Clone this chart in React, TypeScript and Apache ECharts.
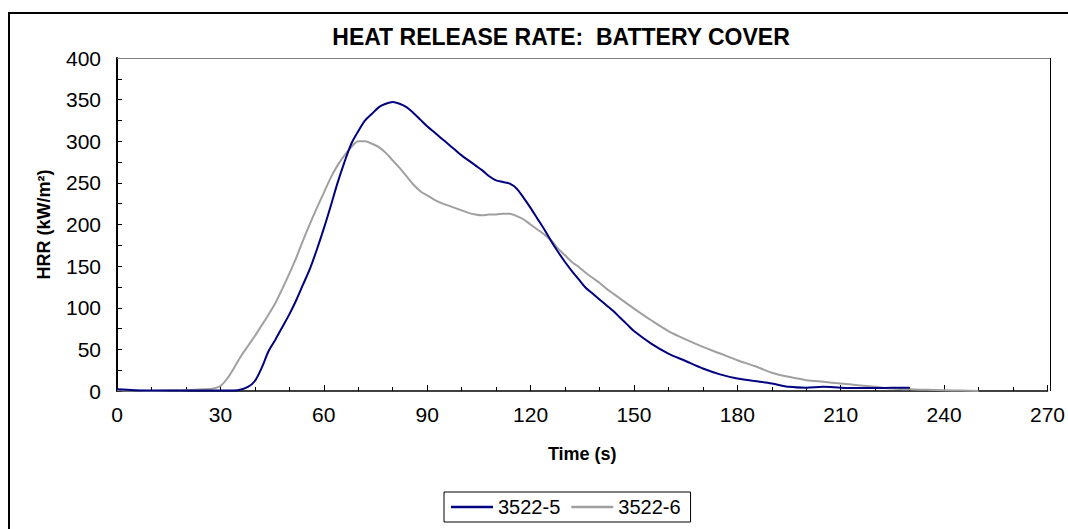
import React, { useEffect, useRef } from "react";
import * as echarts from "echarts";

const TITLE = "HEAT RELEASE RATE:  BATTERY COVER";
const X_NAME = "Time (s)";
const Y_NAME = "HRR (kW/m²)";

const timeA = [0,5,10,15,20,25,30,35,38,40,42,44,46,48,50,52,54,56,58,60,62,64,66,68,70,72,74,76,78,80,82,84,86,88,90,92,94,96,98,100,102,104,106,108,110,112,114,116,118,120,122,124,126,128,130,132,134,136,138,140,142,144,146,148,150,155,160,165,170,175,180,185,190,195,200,205,210,215,220,225,230];
const hrrA = [2,1,0.5,0.5,0.5,0.5,0.5,1,5,12,28,48,62,77,92,109,128,147,170,195,222,250,275,297,312,325,333,341,345,347,345,341,334,326,318,311,304,297,290,283,277,271,265,258,253,251,249,243,232,220,207,194,180,167,155,144,134,124,117,110,103,96,88,80,72,57,45,36,27,20,15,12,9,5,4,5,4,3.5,3.5,4,4];

const timeB = [0,5,10,15,20,25,28,30,32,34,36,38,40,42,44,46,48,50,52,54,56,58,60,62,64,66,68,70,72,74,76,78,80,82,84,86,88,90,92,94,96,98,100,102,104,106,108,110,112,114,116,118,120,122,124,126,128,130,132,134,136,138,140,142,144,146,148,150,155,160,165,170,175,180,185,190,195,200,205,210,215,220,225,230,235,240,245,250];
const hrrB = [1,0.5,0,0.5,1,2,3,6,15,28,42,54,66,79,92,106,123,141,160,181,201,220,238,256,271,283,293,300,300,297,293,286,277,268,258,248,240,235,230,226,223,220,217,214,212,211,212,212,213,213,210,206,200,194,188,181,171,163,155,149,142,136,130,123,117,111,105,99,85,72,62,53,45,37,30,22,17,13,11,9,7,5,3,2,1.5,1,0.5,0];

const SERIES_NAMES = ["3522-5", "3522-6"];

const FONT = "'Liberation Sans', Arial, sans-serif";

export default function App() {
  const ref = useRef<HTMLDivElement>(null);
  useEffect(() => {
    if (!ref.current) return;
    const chart = echarts.init(ref.current, undefined, { renderer: "svg" });
    const option = {
      animation: false,
      backgroundColor: "#ffffff",
      textStyle: { fontFamily: FONT },
      title: {
        text: TITLE,
        left: 556,
        top: 20,
        textAlign: "center",
        textStyle: { fontFamily: FONT, fontSize: 23, fontWeight: "bold", color: "#000" },
      },
      graphic: [
        {
          type: "rect",
          shape: { x: 9, y: 13, width: 1200, height: 700 },
          style: { fill: "none", stroke: "#000", lineWidth: 2 },
          silent: true,
        },
        {
          type: "line",
          shape: { x1: 117, y1: 58.5, x2: 1050, y2: 58.5 },
          style: { stroke: "#808080", lineWidth: 1 },
          silent: true,
          z: 10,
        },
        {
          type: "line",
          shape: { x1: 1050.5, y1: 58, x2: 1050.5, y2: 391 },
          style: { stroke: "#000", lineWidth: 1 },
          silent: true,
          z: 10,
        },
      ],
      legend: {
        data: SERIES_NAMES,
        left: 444,
        top: 492,
        orient: "horizontal",
        icon: "rect",
        itemWidth: 42,
        itemHeight: 2.5,
        itemGap: 11,
        padding: [5, 10, 5, 7],
        borderColor: "#000",
        borderWidth: 1,
        borderRadius: 0,
        textStyle: { fontFamily: FONT, fontSize: 20, color: "#000", padding: [0, 0, 0, 0] },
      },
      grid: {
        left: 117,
        right: 18,
        top: 58,
        bottom: 138,
        show: false,
      },
      xAxis: {
        type: "value",
        min: 0,
        max: 270,
        interval: 30,
        name: X_NAME,
        nameLocation: "middle",
        nameGap: 54,
        nameTextStyle: { fontFamily: FONT, fontSize: 18, fontWeight: "bold", color: "#000" },
        axisLine: { show: true, lineStyle: { color: "#000", width: 1.5 } },
        axisTick: { show: true, inside: true, length: 6, lineStyle: { color: "#000" } },
        minorTick: { show: true, splitNumber: 3, length: 4, lineStyle: { color: "#000" } },
        axisLabel: { fontFamily: FONT, fontSize: 21, color: "#000", margin: 13 },
        splitLine: { show: false },
      },
      yAxis: {
        type: "value",
        min: 0,
        max: 400,
        interval: 50,
        name: Y_NAME,
        nameLocation: "middle",
        nameGap: 64,
        nameTextStyle: { fontFamily: FONT, fontSize: 18, fontWeight: "bold", color: "#000" },
        axisLine: { show: true, lineStyle: { color: "#000", width: 2 } },
        axisTick: { show: true, inside: true, length: 5, lineStyle: { color: "#000" } },
        minorTick: { show: true, splitNumber: 2, length: 5, lineStyle: { color: "#000" } },
        axisLabel: { fontFamily: FONT, fontSize: 21, color: "#000", margin: 16 },
        splitLine: { show: false },
      },
      series: [
        {
          name: SERIES_NAMES[0],
          type: "line",
          data: timeA.map((t, i) => [t, hrrA[i]]),
          smooth: 0.3,
          symbol: "none",
          lineStyle: { color: "#000080", width: 2 },
          itemStyle: { color: "#000080" },
          z: 3,
        },
        {
          name: SERIES_NAMES[1],
          type: "line",
          data: timeB.map((t, i) => [t, hrrB[i]]),
          smooth: 0.3,
          symbol: "none",
          lineStyle: { color: "#A0A0A0", width: 2 },
          itemStyle: { color: "#A0A0A0" },
          z: 2,
        },
      ],
    };
    chart.setOption(option as any);
    return () => chart.dispose();
  }, []);
  return (
    <div
      ref={ref}
      style={{ position: "fixed", left: 0, top: 0, width: 1068, height: 529, background: "#fff" }}
    />
  );
}
